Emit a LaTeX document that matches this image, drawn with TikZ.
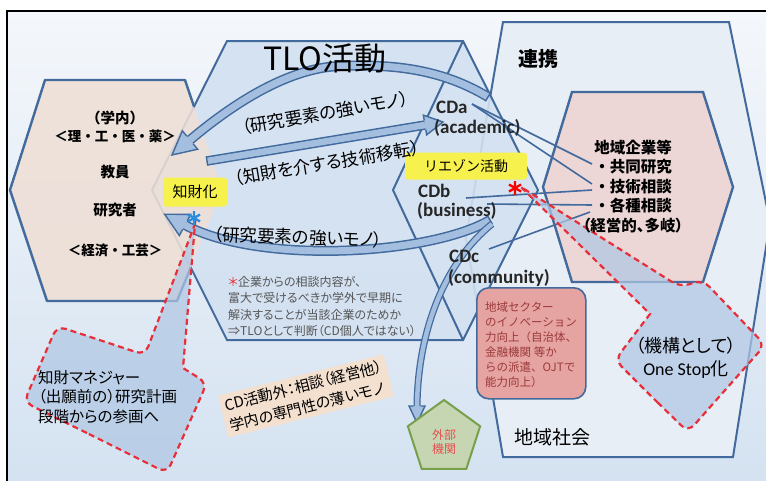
\documentclass[tikz,border=0pt]{standalone}
\usepackage{fontspec}
\newfontfamily\jp{Noto Sans CJK JP}[RawFeature=+palt]
\newfontfamily\jpw{Noto Sans CJK JP}
\newfontfamily\calib{Carlito}
\usetikzlibrary{calc,shapes.geometric}
\definecolor{frameblue}{RGB}{66,106,156}
\definecolor{bgtop}{RGB}{244,247,251}
\definecolor{bgbot}{RGB}{212,226,241}
\definecolor{tlofill}{RGB}{211,225,241}
\definecolor{renfill}{RGB}{231,238,246}
\definecolor{leftfill}{RGB}{238,223,214}
\definecolor{pinkfill}{RGB}{236,214,214}
\definecolor{arrfill}{RGB}{163,190,223}
\definecolor{yel}{RGB}{246,241,76}
\definecolor{callfill}{RGB}{176,199,228}
\definecolor{cred}{RGB}{232,46,56}
\definecolor{secfill}{RGB}{229,163,161}
\definecolor{sectext}{RGB}{155,58,58}
\definecolor{pentfill}{RGB}{198,214,178}
\definecolor{pentline}{RGB}{120,160,75}
\definecolor{pentext}{RGB}{230,80,80}
\definecolor{tanfill}{RGB}{243,224,207}
\definecolor{notegray}{RGB}{85,85,85}
\definecolor{astblue}{RGB}{40,140,225}
\newcommand{\fs}[2]{\fontsize{#1}{#2}\selectfont}
\newcommand{\blockhead}[4]{%
  \fill[arrfill] ($(#1)!#3!90:(#2)$) -- (#2) -- ($(#1)!#3!-90:(#2)$) -- cycle;
  \draw[headline] ($(#1)!#4!90:(#2)$) -- ($(#1)!#3!90:(#2)$) -- (#2) -- ($(#1)!#3!-90:(#2)$) -- ($(#1)!#4!-90:(#2)$);}
\newcommand{\astr}[3]{%
  \draw[#3, line width=2.3pt] (#1) +(90:#2) -- +(270:#2) (#1) +(30:#2) -- +(210:#2) (#1) +(150:#2) -- +(330:#2);}
\begin{document}
\begin{tikzpicture}[x=1pt,y=-1pt,
  hexline/.style={draw=frameblue, line width=2pt},
  cdline/.style={draw=frameblue, line width=1.6pt},
  arrout/.style={draw=frameblue, line width=10pt},
  arrin/.style={draw=arrfill, line width=7pt},
  headline/.style={draw=frameblue, line width=1.4pt, line join=miter},
  callout/.style={draw=cred, line width=2.2pt, dash pattern=on 6pt off 4pt, fill=callfill, fill opacity=0.72},
  ybox/.style={fill=yel, rounded corners=3pt, inner sep=0pt},
  cdlbl/.style={anchor=west, inner sep=0pt, font=\calib\bfseries\fs{19}{22}, text=black!85},
  hexlbl/.style={inner sep=0pt, font=\jpw\bfseries\fs{14.5}{17}},
  arclbl/.style={inner sep=0pt, font=\jp\fs{17.5}{20}}]
\useasboundingbox (0,0) rectangle (766,480);
\fill[white] (0,0) rectangle (766,480);
\shade[top color=bgtop,bottom color=bgbot] (7,11) rectangle (772,486);
% renkei hexagon
\draw[hexline,fill=renfill] (503,22) -- (729,22) -- (770,222) -- (733,457) -- (503,457) -- (466,238) -- cycle;
% TLO hexagon
\draw[hexline,fill=tlofill,fill opacity=0.9] (152,190) -- (227,41) -- (463,41) -- (538,190) -- (463,340) -- (227,340) -- cycle;
\draw[hexline] (463,41) -- (393,190) -- (463,340);
% left hexagon
\fill[leftfill,opacity=0.88] (45,80) -- (185,80) -- (222,190) -- (177,301) -- (47,301) -- (10,190) -- cycle;
\draw[hexline,line width=2.4pt,line join=round] (194,106.6) -- (185,80) -- (45,80) -- (10,190) -- (47,301) -- (177,301) -- (190.7,267.3);
% pink hexagon
\draw[hexline,line width=2.4pt,fill=pinkfill] (543,187) -- (572,92) -- (703,92) -- (733,187) -- (703,282) -- (572,282) -- cycle;
% CD connector lines
\coordinate (a1) at (472,104);
\coordinate (b1) at (466,198);
\coordinate (b2) at (487,204);
\coordinate (c1) at (489,249);
\coordinate (i1) at (592,164);
\coordinate (i2) at (592,184);
\coordinate (i2b) at (592,190);
\coordinate (i3) at (592,205);
\coordinate (i3b) at (590,212);
\draw[cdline] (a1) -- (i1);
\draw[cdline] (a1) -- (i2);
\draw[cdline] (b1) -- (i2b);
\draw[cdline] (b2) -- (i3);
\draw[cdline] (c1) -- (i3b);
% upper arc arrow
\coordinate (ua0) at (488,97);
\coordinate (ua1) at (190,140);
\coordinate (ua2) at (172,155);
\draw[arrin, preaction={arrout}] (ua0) .. controls (440,68) and (390,64) .. (340,66) .. controls (285,68) and (228,108) .. (ua1);
\blockhead{ua1}{ua2}{12pt}{5pt}
\draw[headline] ($(ua0)!5pt!90:(440,68)$) -- ($(ua0)!5pt!-90:(440,68)$);
% middle straight arrow
\coordinate (ma0) at (207,161);
\coordinate (ma1) at (425,125);
\coordinate (ma2) at (443,122);
\draw[arrin, line width=6.5pt, preaction={draw=frameblue, line width=9.5pt}] (ma0) -- (ma1);
\blockhead{ma1}{ma2}{10pt}{4.75pt}
\draw[headline] ($(ma0)!4.75pt!90:(ma1)$) -- ($(ma0)!4.75pt!-90:(ma1)$);
% lower arc arrow
\coordinate (la0) at (490,220);
\coordinate (la1) at (185,225);
\coordinate (la2) at (164.7,214.2);
\draw[arrin, preaction={arrout}] (la0) .. controls (430,255) and (260,265) .. (la1);
\blockhead{la1}{la2}{12pt}{5pt}
\draw[headline] ($(la0)!5pt!90:(430,255)$) -- ($(la0)!5pt!-90:(430,255)$);
% arrow to external body
\coordinate (ea0) at (492,224);
\coordinate (ea1) at (417,406);
\coordinate (ea2) at (417,423);
\draw[arrin, line width=4.5pt, preaction={draw=frameblue, line width=7pt}] (ea0) .. controls (445,262) and (418,330) .. (ea1);
\blockhead{ea1}{ea2}{8pt}{3.5pt}
% pentagon
\node[regular polygon, regular polygon sides=5, minimum size=76pt, draw=pentline, line width=2pt, fill=pentfill, inner sep=0pt] (pent) at (444,438) {};
\node[align=center, inner sep=0pt, font=\jpw\fs{12}{14}, text=pentext] (gaibu) at (444,442) {外部\\機関};
% regional sector box
\node[draw=frameblue, line width=1.6pt, fill=secfill, rounded corners=12pt, minimum width=109pt, minimum height=111pt, anchor=north west, inner sep=0pt] (sector) at (476,287) {};
\node[anchor=west, align=left, inner sep=0pt, font=\jpw\fs{11.5}{15}, text=sectext] (sectxt) at (485,345) {地域セクター\\のイノベーション\\力向上（自治体、\\金融機関 等か\\らの派遣、OJTで\\能力向上）};
% CD outside box
\node[fill=tanfill, rotate=14, align=left, inner sep=4pt, font=\jp\fs{15}{21}] (cdout) at (306,396) {CD活動外：相談（経営他）\\学内の専門性の薄いモノ};
% callouts
\draw[callout] (95,437) [rounded corners=9pt] -- (24,402) -- (57,326) -- (145,355) [sharp corners] -- (195,224) -- (183,368) [rounded corners=9pt] -- (207,383) -- (167,473) -- cycle;
\draw[callout] (651,396) [rounded corners=9pt] -- (688,432) -- (765,345) -- (703,280) -- (680,287) [sharp corners] -- (521,187) -- (650,314) [rounded corners=9pt] -- (615,360) -- cycle;
% yellow labels
\node[ybox, minimum width=64pt, minimum height=29pt, font=\jpw\fs{15}{17}] (chizai) at (195,192) {知財化};
\node[ybox, minimum width=122pt, minimum height=27pt, font=\jpw\fs{14}{16}] (liaison) at (466,166) {リエゾン活動};
% asterisks
\coordinate (bast) at (194,218);
\coordinate (rast) at (515,188);
\astr{bast}{7}{astblue}
\astr{rast}{7}{red}
% left hexagon labels
\node[hexlbl] (gakunai) at (115,118) {（学内）};
\node[hexlbl, font=\jpw\bfseries\fs{13.5}{16}] (riko) at (115,136) {＜理・工・医・薬＞};
\node[hexlbl] (kyoin) at (115,172) {教員};
\node[hexlbl] (kenkyu) at (115,210) {研究者};
\node[hexlbl, font=\jpw\bfseries\fs{13.5}{16}] (keizai) at (115,250) {＜経済・工芸＞};
% titles
\node[inner sep=0pt, font=\jpw\fs{32}{36}] (tlo) at (325,58) {TLO活動};
\node[inner sep=0pt, font=\jpw\bfseries\fs{20}{24}] (ren) at (538,59) {連携};
\node[inner sep=0pt, font=\jpw\fs{19}{22}] (chiikisha) at (552,437) {地域社会};
% pink hexagon labels
\node[inner sep=0pt, font=\jpw\bfseries\fs{15.5}{18}] (kigyo) at (633,148) {地域企業等};
\node[inner sep=0pt, font=\jpw\bfseries\fs{15.5}{18}] (kyodo) at (633,167) {・共同研究};
\node[inner sep=0pt, font=\jpw\bfseries\fs{15.5}{18}] (gijutsu) at (633,187) {・技術相談};
\node[inner sep=0pt, font=\jpw\bfseries\fs{15.5}{18}] (kakushu) at (633,206) {・各種相談};
\node[inner sep=0pt, font=\jp\bfseries\fs{15.5}{18}] (keiei) at (633,226) {（経営的、多岐）};
% CD labels
\node[cdlbl] (cda) at (436,107) {CDa};
\node[cdlbl] (acad) at (434,128) {(academic)};
\node[cdlbl] (cdb) at (418,191) {CDb};
\node[cdlbl] (bus) at (417,211) {(business)};
\node[cdlbl] (cdc) at (449,256) {CDc};
\node[cdlbl] (comm) at (448,278) {(community)};
% arc labels
\node[arclbl, rotate=10] (ula) at (325,113) {（研究要素の強いモノ）};
\node[arclbl, rotate=9.5] (mla) at (327,163) {（知財を介する技術移転）};
\node[arclbl, rotate=-2] (lla) at (298,237) {（研究要素の強いモノ）};
% note
\node[anchor=north west, align=left, inner sep=0pt, font=\jp\fs{12}{16.5}, text=notegray] (note) at (228,276) {\textcolor{cred}{＊}企業からの相談内容が、\\富大で受けるべきか学外で早期に\\解決することが当該企業のためか\\⇒TLOとして判断（CD個人ではない）};
% callout texts
\node[anchor=west, align=left, inner sep=0pt, font=\jp\fs{15.5}{19.5}] (mgr) at (38,397) {知財マネジャー\\（出願前の）研究計画\\段階からの参画へ};
\node[align=center, inner sep=0pt, font=\jp\fs{18}{23}] (onestop) at (686,358) {（機構として）\\{\calib One Stop}化};
% frame
\draw[black, line width=2pt] (7,11) rectangle (772,486);
\end{tikzpicture}
\end{document}
